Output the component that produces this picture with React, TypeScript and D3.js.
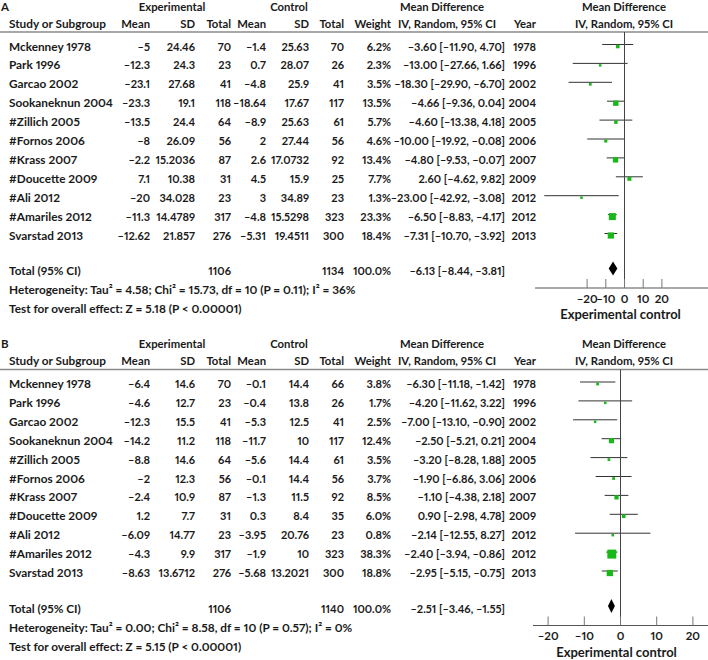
import React from "react";
import * as d3 from "d3";

const studies = [
  "Mckenney 1978", "Park 1996", "Garcao 2002", "Sookaneknun 2004", "#Zillich 2005",
  "#Fornos 2006", "#Krass 2007", "#Doucette 2009", "#Ali 2012", "#Amariles 2012", "Svarstad 2013",
];
const years = [1978, 1996, 2002, 2004, 2005, 2006, 2007, 2009, 2012, 2012, 2013];

// Panel A
const aExpMean = [-5, -12.3, -23.1, -23.3, -13.5, -8, -2.2, 7.1, -20, -11.3, -12.62];
const aExpSD = [24.46, 24.3, 27.68, 19.1, 24.4, 26.09, 15.2036, 10.38, 34.028, 14.4789, 21.857];
const aExpN = [70, 23, 41, 118, 64, 56, 87, 31, 23, 317, 276];
const aCtlMean = [-1.4, 0.7, -4.8, -18.64, -8.9, 2, 2.6, 4.5, 3, -4.8, -5.31];
const aCtlSD = [25.63, 28.07, 25.9, 17.67, 25.63, 27.44, 17.0732, 15.9, 34.89, 15.5298, 19.4511];
const aCtlN = [70, 26, 41, 117, 61, 56, 92, 25, 23, 323, 300];
const aWeight = [6.2, 2.3, 3.5, 13.5, 5.7, 4.6, 13.4, 7.7, 1.3, 23.3, 18.4];
const aMD = [-3.6, -13.0, -18.3, -4.66, -4.6, -10.0, -4.8, 2.6, -23.0, -6.5, -7.31];
const aLo = [-11.9, -27.66, -29.9, -9.36, -13.38, -19.92, -9.53, -4.62, -42.92, -8.83, -10.7];
const aHi = [4.7, 1.66, -6.7, 0.04, 4.18, -0.08, -0.07, 9.82, -3.08, -4.17, -3.92];
const aTotals = [1106, 1134];
const aPooled = [-6.13, -8.44, -3.81];
const aHet = "Heterogeneity: Tau² = 4.58; Chi² = 15.73, df = 10 (P = 0.11); I² = 36%";
const aTest = "Test for overall effect: Z = 5.18 (P < 0.00001)";
const aTicks = [-20, -10, 0, 10, 20];

// Panel B
const bExpMean = [-6.4, -4.6, -12.3, -14.2, -8.8, -2, -2.4, 1.2, -6.09, -4.3, -8.63];
const bExpSD = [14.6, 12.7, 15.5, 11.2, 14.6, 12.3, 10.9, 7.7, 14.77, 9.9, 13.6712];
const bExpN = [70, 23, 41, 118, 64, 56, 87, 31, 23, 317, 276];
const bCtlMean = [-0.1, -0.4, -5.3, -11.7, -5.6, -0.1, -1.3, 0.3, -3.95, -1.9, -5.68];
const bCtlSD = [14.4, 13.8, 12.5, 10, 14.4, 14.4, 11.5, 8.4, 20.76, 10, 13.2021];
const bCtlN = [66, 26, 41, 117, 61, 56, 92, 35, 23, 323, 300];
const bWeight = [3.8, 1.7, 2.5, 12.4, 3.5, 3.7, 8.5, 6.0, 0.8, 38.3, 18.8];
const bMD = [-6.3, -4.2, -7.0, -2.5, -3.2, -1.9, -1.1, 0.9, -2.14, -2.4, -2.95];
const bLo = [-11.18, -11.62, -13.1, -5.21, -8.28, -6.86, -4.38, -2.98, -12.55, -3.94, -5.15];
const bHi = [-1.42, 3.22, -0.9, 0.21, 1.88, 3.06, 2.18, 4.78, 8.27, -0.86, -0.75];
const bTotals = [1106, 1140];
const bPooled = [-2.51, -3.46, -1.55];
const bHet = "Heterogeneity: Tau² = 0.00; Chi² = 8.58, df = 10 (P = 0.57); I² = 0%";
const bTest = "Test for overall effect: Z = 5.15 (P < 0.00001)";
const bTicks = [-20, -10, 0, 10, 20];

const M = (s: string) => s.replace(/-/g, "–");
const fmt = (v: number) => M(String(v));
const f2 = (v: number) => M(v.toFixed(2));

const FONT = "Lato, 'Noto Sans', sans-serif";
const GREEN = "#19b819";
const TXT = "#1a1a1a";
const LABEL_SIZE = 11.8;
const HEAD_SIZE = 11.3;
const NUM_SIZE = 11;

type PanelProps = {
  label: string;
  top: number;
  expMean: number[]; expSD: number[]; expN: number[];
  ctlMean: number[]; ctlSD: number[]; ctlN: number[];
  weight: number[]; md: number[]; lo: number[]; hi: number[];
  totals: number[]; pooled: number[]; het: string; test: string; ticks: number[];
  zero: number; pxPerUnit: number; axisStart: number;
};

function Panel(p: PanelProps) {
  const x = d3.scaleLinear().domain([0, 10]).range([p.zero, p.zero + 10 * p.pxPerUnit]);
  const row = d3.scaleLinear().domain([0, 1]).range([p.top + 46, p.top + 46 + 18.9]);
  const lastY = row(studies.length - 1);
  const totalY = lastY + 35.5;
  const hetY = totalY + 19;
  const testY = hetY + 19;
  const axisY = totalY + 17.5;
  const ruleY = p.top + 32;
  const size = (w: number) => Math.max(2.5, 1.45 * Math.sqrt(w));
  const t = (props: any, s: string) => (
    <text dominantBaseline="central" fill={TXT} style={{ fontVariantNumeric: "proportional-nums" }} {...props}>{s}</text>
  );
  const h = (props: any, s: string) => t({ fontSize: HEAD_SIZE, ...props }, s);
  const n = (props: any, s: string) => t({ fontSize: NUM_SIZE, textAnchor: "end", ...props }, s);
  const colR = { eM: 150, eSD: 195, eN: 231, cM: 266, cSD: 309, cN: 344, w: 391, ci: 505, yr: 536 };
  return (
    <g>
      {t({ x: 1, y: p.top + 6, fontSize: 11.5 }, p.label)}
      {h({ x: 172, y: p.top + 6, textAnchor: "middle" }, "Experimental")}
      {h({ x: 289, y: p.top + 6, textAnchor: "middle" }, "Control")}
      {h({ x: 442, y: p.top + 6, textAnchor: "middle" }, "Mean Difference")}
      {h({ x: 624, y: p.top + 6, textAnchor: "middle" }, "Mean Difference")}
      {h({ x: 9, y: p.top + 23, fontSize: LABEL_SIZE }, "Study or Subgroup")}
      {h({ x: colR.eM, y: p.top + 23, textAnchor: "end" }, "Mean")}
      {h({ x: colR.eSD, y: p.top + 23, textAnchor: "end" }, "SD")}
      {h({ x: colR.eN, y: p.top + 23, textAnchor: "end" }, "Total")}
      {h({ x: colR.cM, y: p.top + 23, textAnchor: "end" }, "Mean")}
      {h({ x: colR.cSD, y: p.top + 23, textAnchor: "end" }, "SD")}
      {h({ x: colR.cN, y: p.top + 23, textAnchor: "end" }, "Total")}
      {h({ x: colR.w, y: p.top + 23, textAnchor: "end" }, "Weight")}
      {h({ x: 447, y: p.top + 23, textAnchor: "middle" }, "IV, Random, 95% CI")}
      {h({ x: colR.yr, y: p.top + 23, textAnchor: "end" }, "Year")}
      {h({ x: 624, y: p.top + 23, textAnchor: "middle" }, "IV, Random, 95% CI")}
      <line x1={0} x2={708} y1={ruleY} y2={ruleY} stroke="#8a8a8a" strokeWidth={1.6} />
      {studies.map((s, i) => {
        const y = row(i);
        const sz = size(p.weight[i]);
        return (
          <g key={s}>
            {t({ x: 9, y, fontSize: LABEL_SIZE }, s)}
            {n({ x: colR.eM, y }, fmt(p.expMean[i]))}
            {n({ x: colR.eSD, y }, fmt(p.expSD[i]))}
            {n({ x: colR.eN, y }, String(p.expN[i]))}
            {n({ x: colR.cM, y }, fmt(p.ctlMean[i]))}
            {n({ x: colR.cSD, y }, fmt(p.ctlSD[i]))}
            {n({ x: colR.cN, y }, String(p.ctlN[i]))}
            {n({ x: colR.w, y }, p.weight[i].toFixed(1) + "%")}
            {n({ x: colR.ci, y }, `${f2(p.md[i])} [${f2(p.lo[i])}, ${f2(p.hi[i])}]`)}
            {n({ x: colR.yr, y }, String(years[i]))}
            <line x1={x(p.lo[i])} x2={x(p.hi[i])} y1={y - 1.5} y2={y - 1.5} stroke="#333" strokeWidth={1} />
            <rect x={x(p.md[i]) - sz / 2} y={y + 0.5 - sz / 2} width={sz} height={sz} fill={GREEN} />
          </g>
        );
      })}
      {t({ x: 9, y: totalY, fontSize: LABEL_SIZE }, "Total (95% CI)")}
      {n({ x: colR.eN, y: totalY }, String(p.totals[0]))}
      {n({ x: colR.cN, y: totalY }, String(p.totals[1]))}
      {n({ x: colR.w, y: totalY }, "100.0%")}
      {n({ x: colR.ci, y: totalY }, `${f2(p.pooled[0])} [${f2(p.pooled[1])}, ${f2(p.pooled[2])}]`)}
      {t({ x: 9, y: hetY, fontSize: LABEL_SIZE }, p.het)}
      {t({ x: 9, y: testY, fontSize: LABEL_SIZE }, p.test)}
      <path
        d={`M${x(p.pooled[1])},${totalY - 2} L${x(p.pooled[0])},${totalY - 9} L${x(p.pooled[2])},${totalY - 2} L${x(p.pooled[0])},${totalY + 5} Z`}
        fill="#000"
      />
      <line x1={x(0)} x2={x(0)} y1={ruleY} y2={axisY} stroke="#444" strokeWidth={1} />
      <line x1={p.axisStart} x2={708} y1={axisY} y2={axisY} stroke="#555" strokeWidth={1} />
      {p.ticks.map((v) => (
        <g key={v}>
          <line x1={x(v)} x2={x(v)} y1={axisY} y2={axisY - 9} stroke="#777" strokeWidth={1} />
          {t({ x: x(v), y: axisY + 10, textAnchor: "middle", fontSize: 11.5 }, fmt(v))}
        </g>
      ))}
      {t({ x: x(0) - 4, y: axisY + 26, textAnchor: "middle", fontSize: 13 }, "Experimental control")}
    </g>
  );
}

export default function App() {
  return (
    <svg
      width={708}
      height={660}
      style={{ position: "absolute", left: 0, top: 0, background: "#fff" }}
      fontFamily={FONT}
      fontWeight={700}
      fontSize={11.8}
    >
      <rect width={708} height={660} fill="#fff" />
      <Panel
        label="A" top={0}
        expMean={aExpMean} expSD={aExpSD} expN={aExpN}
        ctlMean={aCtlMean} ctlSD={aCtlSD} ctlN={aCtlN}
        weight={aWeight} md={aMD} lo={aLo} hi={aHi}
        totals={aTotals} pooled={aPooled} het={aHet} test={aTest} ticks={aTicks}
        zero={624.5} pxPerUnit={1.87} axisStart={535}
      />
      <Panel
        label="B" top={337.5}
        expMean={bExpMean} expSD={bExpSD} expN={bExpN}
        ctlMean={bCtlMean} ctlSD={bCtlSD} ctlN={bCtlN}
        weight={bWeight} md={bMD} lo={bLo} hi={bHi}
        totals={bTotals} pooled={bPooled} het={bHet} test={bTest} ticks={bTicks}
        zero={620.5} pxPerUnit={3.62} axisStart={533}
      />
    </svg>
  );
}
